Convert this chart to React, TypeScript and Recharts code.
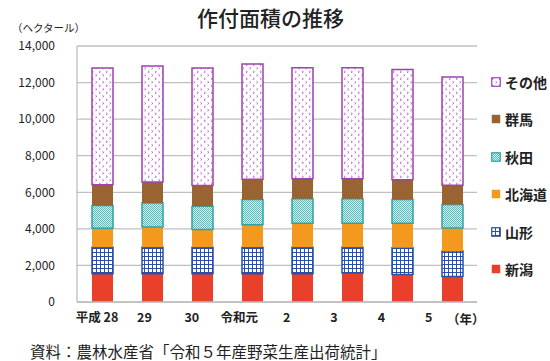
import { Bar, BarChart, CartesianGrid, XAxis, YAxis } from "recharts";

const years = ["平成 28", "29", "30", "令和元", "2", "3", "4", "5"];
const niigata = [1550, 1550, 1550, 1550, 1550, 1580, 1510, 1400];
const yamagata = [1450, 1450, 1450, 1450, 1450, 1420, 1460, 1390];
const hokkaido = [1040, 1100, 970, 1230, 1300, 1300, 1330, 1260];
const akita = [1240, 1310, 1270, 1370, 1350, 1350, 1310, 1280];
const gunma = [1130, 1150, 1130, 1110, 1090, 1090, 1080, 1060];
const other = [6390, 6340, 6430, 6300, 6070, 6070, 6030, 5920];
const yTicks = [0, 2000, 4000, 6000, 8000, 10000, 12000, 14000];

const series = [
  { key: "niigata", name: "新潟", fill: "#E8402A", stroke: "none" },
  { key: "yamagata", name: "山形", fill: "url(#pYamagata)", stroke: "#2B4FA8" },
  { key: "hokkaido", name: "北海道", fill: "#F39A1E", stroke: "none" },
  { key: "akita", name: "秋田", fill: "url(#pAkita)", stroke: "#2FA3A3" },
  { key: "gunma", name: "群馬", fill: "#9A6332", stroke: "none" },
  { key: "other", name: "その他", fill: "url(#pOther)", stroke: "#A040B4" },
];

const data = years.map((year, i) => ({
  year,
  niigata: niigata[i],
  yamagata: yamagata[i],
  hokkaido: hokkaido[i],
  akita: akita[i],
  gunma: gunma[i],
  other: other[i],
}));

const font = '"Noto Sans CJK JP", "Noto Sans", sans-serif';

const formatNumber = (v: number) => String(v).replace(/\B(?=(\d{3})+(?!\d))/g, ",");

function XTick({ x, y, payload }: any) {
  // labels in the source sit slightly left of the bars, drifting a bit more each step
  const i = Math.max(0, years.indexOf(payload.value));
  return (
    <text x={x - 5 - 2.6 * i} y={y} dy={12} textAnchor="middle" fontSize={12.5} fontWeight={700} fill="#222" fontFamily={font}>
      {payload.value}
    </text>
  );
}

function LegendList() {
  return (
    <div style={{ fontFamily: font }}>
      {[...series].reverse().map((s) => (
        <div key={s.key} style={{ display: "flex", alignItems: "center", height: 37.5 }}>
          <svg width={10} height={10} style={{ marginRight: 4 }}>
            <rect x={0.75} y={0.75} width={8.5} height={8.5} fill={s.fill} stroke={s.stroke === "none" ? "none" : s.stroke} strokeWidth={1.2} />
          </svg>
          <span style={{ fontSize: 14, fontWeight: 700, color: "#222" }}>{s.name}</span>
        </div>
      ))}
    </div>
  );
}

export default function App() {
  return (
    <div style={{ position: "absolute", left: 0, top: 0, width: 550, height: 361, background: "#fff", fontFamily: font }}>
      <div style={{ position: "absolute", left: 197, top: 7, fontSize: 21, fontWeight: 500, color: "#222", lineHeight: 1 }}>
        作付面積の推移
      </div>
      <div style={{ position: "absolute", left: 12, top: 23, fontSize: 10.5, color: "#222", lineHeight: 1 }}>（ヘクタール）</div>
      <BarChart width={550} height={361} data={data} margin={{ top: 46, right: 73, bottom: 29, left: 0 }} barSize={21}>
        <defs>
          <pattern id="pOther" width="7" height="7" patternUnits="userSpaceOnUse">
            <rect width="7" height="7" fill="#fff" />
            <path d="M1 0.8 L2.4 1.8 L1 2.8" stroke="#B050C4" strokeWidth="0.8" fill="none" />
            <path d="M4.5 4.3 L5.9 5.3 L4.5 6.3" stroke="#B050C4" strokeWidth="0.8" fill="none" />
          </pattern>
          <pattern id="pAkita" width="2" height="2" patternUnits="userSpaceOnUse">
            <rect width="2" height="2" fill="#D2F0EE" />
            <rect width="1" height="1" fill="#55BDBB" />
            <rect x="1" y="1" width="1" height="1" fill="#55BDBB" />
          </pattern>
          <pattern id="pYamagata" width="4" height="4" patternUnits="userSpaceOnUse">
            <rect width="4" height="4" fill="#fff" />
            <path d="M0 0.5 H4 M0.5 0 V4" stroke="#2B4FA8" strokeWidth="1" />
          </pattern>
        </defs>
        <CartesianGrid vertical={false} stroke="#BFBFBF" strokeWidth={1.3} />
        <XAxis dataKey="year" height={30} tickLine={false} axisLine={{ stroke: "#BFBFBF", strokeWidth: 1.3 }} tick={<XTick />} interval={0} />
        <YAxis
          width={77}
          domain={[0, 14000]}
          ticks={yTicks}
          tickFormatter={formatNumber}
          tickLine={false}
          tickSize={0}
          tickMargin={22}
          axisLine={{ stroke: "#BFBFBF", strokeWidth: 1.3 }}
          tick={{ fontSize: 12, fill: "#222", fontFamily: font }}
        />
        {series.map((s) => (
          <Bar
            key={s.key}
            dataKey={s.key}
            name={s.name}
            stackId="a"
            fill={s.fill}
            stroke={s.stroke}
            strokeWidth={s.stroke === "none" ? 0 : 1.5}
            isAnimationActive={false}
          />
        ))}
      </BarChart>
      <div style={{ position: "absolute", left: 491, top: 63, width: 60 }}>
        <LegendList />
      </div>
      <div style={{ position: "absolute", left: 447, top: 313, fontSize: 12.5, fontWeight: 700, color: "#222", lineHeight: 1 }}>（年）</div>
      <div style={{ position: "absolute", left: 30, top: 344, fontSize: 15.5, color: "#222", lineHeight: 1 }}>
        資料：農林水産省「令和５年産野菜生産出荷統計」
      </div>
    </div>
  );
}
